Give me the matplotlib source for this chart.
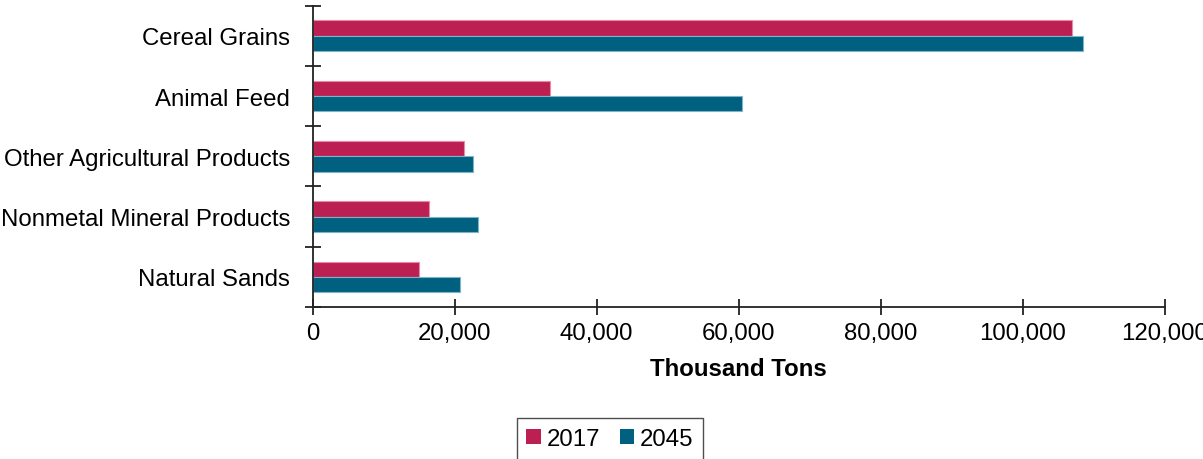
import matplotlib
matplotlib.use('Agg')
import matplotlib.pyplot as plt
import numpy as np

plt.rcParams['font.family'] = ['Liberation Sans', 'DejaVu Sans']

categories = ['Cereal Grains', 'Animal Feed', 'Other Agricultural Products',
              'Nonmetal Mineral Products', 'Natural Sands']
vals_2017 = [106950, 33470, 21280, 16360, 15030]
vals_2045 = [108500, 60460, 22550, 23250, 20720]
years = ['2017', '2045']
colors = ['#BC2052', '#00607F']
edges = ['#E889A6', '#7FB3C6']
FS = 17.3

fig = plt.figure(figsize=(12.03, 4.6), dpi=100)
ax = fig.add_axes([312.5 / 1203, 1 - 308 / 460, (1165 - 312.5) / 1203, (308 - 6.7) / 460])

y = np.arange(len(categories))
h = 0.255
ax.barh(y - h / 2, vals_2017, height=h, color=colors[0], edgecolor=edges[0],
        linewidth=0.8, label=years[0])
ax.barh(y + h / 2, vals_2045, height=h, color=colors[1], edgecolor=edges[1],
        linewidth=0.8, label=years[1])

ax.set_ylim(len(categories) - 0.5, -0.5)
ax.set_xlim(0, 120000)
ax.set_xticks(np.arange(0, 120001, 20000))
ax.xaxis.set_major_formatter(matplotlib.ticker.FuncFormatter(lambda v, p: f'{int(v):,}'))

# category labels sit between boundary ticks
ax.set_yticks(np.arange(-0.5, len(categories) + 0.5, 1))
ax.set_yticklabels([])
ax.set_yticks(y, minor=True)
ax.set_yticklabels(categories, minor=True, fontsize=FS)
ax.tick_params(axis='y', which='minor', length=0, pad=16)
ax.tick_params(axis='y', which='major', direction='inout', length=11, width=1.3, color='#222222')
ax.tick_params(axis='x', direction='inout', length=11, width=1.3, color='#222222',
               labelsize=FS, pad=5)

for s in ['top', 'right']:
    ax.spines[s].set_visible(False)
for s in ['left', 'bottom']:
    ax.spines[s].set_color('#222222')
    ax.spines[s].set_linewidth(1.3)

ax.set_xlabel('Thousand Tons', fontsize=FS, fontweight='bold', labelpad=10)

leg = fig.legend(loc='center', bbox_to_anchor=(610 / 1203, 1 - 440 / 460), ncol=2,
                 fontsize=FS, frameon=True, fancybox=False, handlelength=0.6,
                 handleheight=0.6, handletextpad=0.25, columnspacing=0.8,
                 borderpad=0.4)
leg.get_frame().set_edgecolor('#222222')
leg.get_frame().set_linewidth(1.0)
for p in leg.get_patches():
    p.set_edgecolor('none')

fig.savefig('out.png', dpi=100)
